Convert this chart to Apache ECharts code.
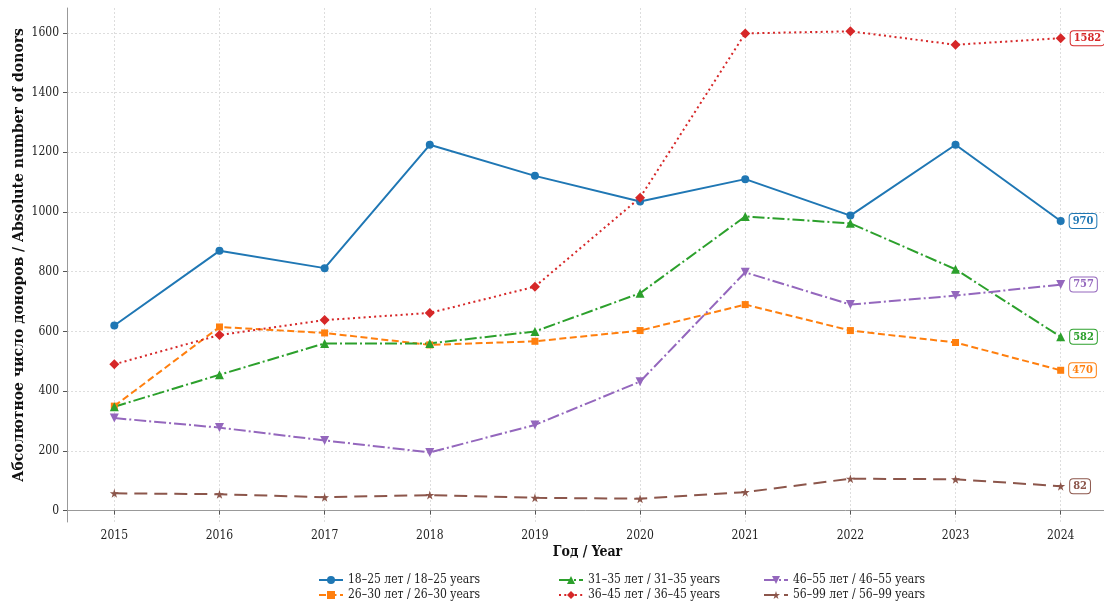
<!DOCTYPE html>
<html><head><meta charset="utf-8">
<script src="https://cdn.jsdelivr.net/npm/echarts@6/dist/echarts.min.js"></script>
<style>html,body{margin:0;padding:0;background:#fff}#c{width:1104px;height:605px}</style>
</head><body><div id="c"></div>
<script>
const years = [2015, 2016, 2017, 2018, 2019, 2020, 2021, 2022, 2023, 2024];
const yTicks = [0, 200, 400, 600, 800, 1000, 1200, 1400, 1600];
const seriesNames = ['18–25 лет / 18–25 years', '26–30 лет / 26–30 years', '31–35 лет / 31–35 years', '36–45 лет / 36–45 years', '46–55 лет / 46–55 years', '56–99 лет / 56–99 years'];
const v18_25 = [620, 870, 812, 1225, 1121, 1035, 1110, 988, 1225, 970];
const v26_30 = [350, 615, 595, 555, 567, 603, 690, 603, 563, 470];
const v31_35 = [348, 455, 560, 560, 600, 728, 985, 962, 808, 582];
const v36_45 = [490, 588, 638, 662, 750, 1048, 1598, 1605, 1560, 1582];
const v46_55 = [310, 278, 235, 195, 287, 432, 798, 690, 720, 757];
const v56_99 = [58, 55, 45, 52, 43, 40, 62, 107, 105, 82];

const colors = ['#1f77b4', '#ff7f0e', '#2ca02c', '#d62728', '#9467bd', '#8c564b'];
const allValues = [v18_25, v26_30, v31_35, v36_45, v46_55, v56_99];
const symbols = ['circle', 'rect', 'triangle', 'diamond', 'triangle',
  'path://M50,0 L61,35 L98,35 L68,57 L79,91 L50,70 L21,91 L32,57 L2,35 L39,35 Z'];
const symbolSizes = [8, 7, 9, 10, 9, 9];
const symbolRotates = [0, 0, 0, 0, 180, 0];
const dashes = ['solid', [7, 3.5], [12, 3, 2, 3], [2, 3.3], [12, 3, 2, 3], [13, 7]];
const FONT = '"DejaVu Serif Condensed", "DejaVu Serif", serif';
const FONT_Y = '"DejaVu Serif", serif';

const series = allValues.map((vals, i) => ({
  name: seriesNames[i],
  type: 'line',
  data: vals.map((v, j) => {
    const d = { value: [years[j], v] };
    if (j === vals.length - 1) {
      d.label = {
        show: true, position: 'right', distance: 5,
        formatter: String(v),
        color: colors[i], fontFamily: FONT, fontWeight: 'bold', fontSize: 11,
        backgroundColor: '#fff', borderColor: colors[i], borderWidth: 1,
        borderRadius: 3, padding: [2, 3, 1, 3]
      };
    }
    return d;
  }),
  symbol: symbols[i],
  symbolSize: symbolSizes[i],
  symbolRotate: symbolRotates[i],
  showAllSymbol: true,
  itemStyle: { color: colors[i] },
  lineStyle: { color: colors[i], width: 2, type: dashes[i] },
  emphasis: { disabled: true },
  animation: false,
  z: 3
}));

const legendCommon = {
  orient: 'vertical', top: 569, height: 40, itemGap: 3,
  itemWidth: 24, itemHeight: 10,
  textStyle: { fontFamily: FONT, fontSize: 12, color: '#222' },
  selectedMode: false
};

const chart = echarts.init(document.getElementById('c'), null, { renderer: 'canvas' });
chart.setOption({
  animation: false,
  grid: { left: 67, right: -4, top: 8, bottom: 83, containLabel: false, outerBoundsMode: 'none' },
  legend: [
    Object.assign({}, legendCommon, { left: 313, data: seriesNames.slice(0, 2) }),
    Object.assign({}, legendCommon, { left: 553, data: seriesNames.slice(2, 4) }),
    Object.assign({}, legendCommon, { left: 758, data: seriesNames.slice(4, 6) })
  ],
  xAxis: {
    type: 'value', min: 2014.55, max: 2024.45,
    name: 'Год / Year', nameLocation: 'middle', nameGap: 23, nameMoveOverlap: false,
    nameTextStyle: { fontFamily: FONT, fontWeight: 'bold', fontSize: 14, color: '#111' },
    axisLine: { show: true, lineStyle: { color: '#999', width: 1 } },
    axisTick: { show: true, customValues: years, length: 4, lineStyle: { color: '#555' } },
    axisLabel: { customValues: years, fontFamily: FONT, fontSize: 12, color: '#222', margin: 8, formatter: v => String(v) },
    splitLine: { show: true, lineStyle: { color: '#ddd', type: [2, 2], width: 1 } }
  },
  yAxis: {
    type: 'value', min: -38, max: 1683,
    name: 'Абсолютное число доноров / Absolute number of donors', nameLocation: 'middle', nameGap: 41, nameMoveOverlap: false,
    nameTextStyle: { fontFamily: FONT_Y, fontWeight: 'bold', fontSize: 14, color: '#111', padding: [0, 0, 0, 20] },
    axisLine: { show: true, lineStyle: { color: '#999', width: 1 } },
    axisTick: { show: true, customValues: yTicks, length: 4, lineStyle: { color: '#555' } },
    axisLabel: { customValues: yTicks, fontFamily: FONT, fontSize: 12, color: '#222', margin: 8, formatter: v => String(v) },
    splitLine: { show: true, lineStyle: { color: '#ddd', type: [2, 2], width: 1 } }
  },
  series: series
});
</script></body></html>
